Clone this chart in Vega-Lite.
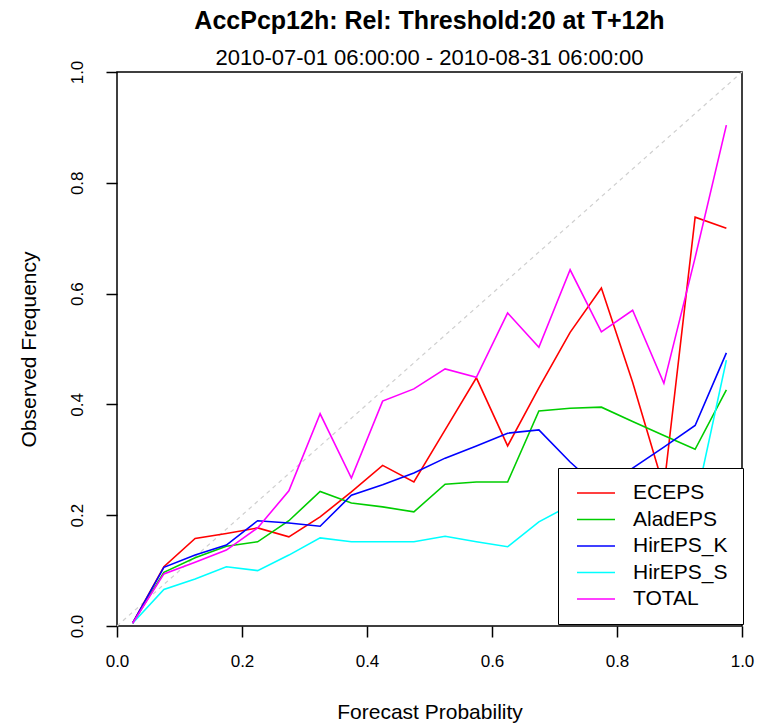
{
  "$schema": "https://vega.github.io/schema/vega-lite/v6.json",
  "width": 625,
  "height": 554,
  "autosize": {"type": "none"},
  "padding": {"left": 117, "top": 72, "right": 31, "bottom": 97},
  "background": "white",
  "config": {
    "font": "Liberation Sans",
    "view": {"stroke": "black", "strokeWidth": 1.5},
    "axis": {
      "domain": false,
      "grid": false,
      "ticks": true,
      "tickColor": "black",
      "tickWidth": 1.5,
      "tickSize": 11,
      "labelColor": "black",
      "labelFont": "Liberation Sans",
      "labelFontSize": 17,
      "titleColor": "black",
      "titleFont": "Liberation Sans",
      "titleFontSize": 21,
      "titleFontWeight": "normal",
      "labelFlush": false,
      "labelOverlap": false
    }
  },
  "title": {
    "text": "AccPcp12h: Rel: Threshold:20 at T+12h",
    "subtitle": "2010-07-01 06:00:00 - 2010-08-31 06:00:00",
    "font": "Liberation Sans",
    "subtitleFont": "Liberation Sans",
    "fontSize": 25,
    "fontWeight": "bold",
    "subtitleFontSize": 22,
    "color": "black",
    "subtitleColor": "black",
    "anchor": "middle",
    "frame": "group",
    "offset": -9,
    "subtitlePadding": 14
  },
  "layer": [
    {
      "data": {"values": [{"p": 0, "f": 0}, {"p": 1, "f": 1}]},
      "mark": {"type": "line", "stroke": "#cfcfcf", "strokeDash": [4, 4], "strokeWidth": 1.2},
      "encoding": {
        "x": {"field": "p", "type": "quantitative"},
        "y": {"field": "f", "type": "quantitative"}
      }
    },
    {
      "data": {
        "values": [
          {"series": "ECEPS", "prob": 0.025, "freq": 0.005},
          {"series": "ECEPS", "prob": 0.075, "freq": 0.107},
          {"series": "ECEPS", "prob": 0.125, "freq": 0.158},
          {"series": "ECEPS", "prob": 0.175, "freq": 0.167},
          {"series": "ECEPS", "prob": 0.225, "freq": 0.177},
          {"series": "ECEPS", "prob": 0.275, "freq": 0.161},
          {"series": "ECEPS", "prob": 0.325, "freq": 0.197},
          {"series": "ECEPS", "prob": 0.375, "freq": 0.242},
          {"series": "ECEPS", "prob": 0.425, "freq": 0.29},
          {"series": "ECEPS", "prob": 0.475, "freq": 0.26},
          {"series": "ECEPS", "prob": 0.525, "freq": 0.354},
          {"series": "ECEPS", "prob": 0.575, "freq": 0.448},
          {"series": "ECEPS", "prob": 0.625, "freq": 0.325},
          {"series": "ECEPS", "prob": 0.675, "freq": 0.43},
          {"series": "ECEPS", "prob": 0.725, "freq": 0.53},
          {"series": "ECEPS", "prob": 0.775, "freq": 0.61},
          {"series": "ECEPS", "prob": 0.825, "freq": 0.44},
          {"series": "ECEPS", "prob": 0.875, "freq": 0.25},
          {"series": "ECEPS", "prob": 0.925, "freq": 0.738},
          {"series": "ECEPS", "prob": 0.975, "freq": 0.718},
          {"series": "AladEPS", "prob": 0.025, "freq": 0.005},
          {"series": "AladEPS", "prob": 0.075, "freq": 0.097},
          {"series": "AladEPS", "prob": 0.125, "freq": 0.123},
          {"series": "AladEPS", "prob": 0.175, "freq": 0.144},
          {"series": "AladEPS", "prob": 0.225, "freq": 0.152},
          {"series": "AladEPS", "prob": 0.275, "freq": 0.19},
          {"series": "AladEPS", "prob": 0.325, "freq": 0.243},
          {"series": "AladEPS", "prob": 0.375, "freq": 0.222},
          {"series": "AladEPS", "prob": 0.425, "freq": 0.215},
          {"series": "AladEPS", "prob": 0.475, "freq": 0.206},
          {"series": "AladEPS", "prob": 0.525, "freq": 0.256},
          {"series": "AladEPS", "prob": 0.575, "freq": 0.26},
          {"series": "AladEPS", "prob": 0.625, "freq": 0.26},
          {"series": "AladEPS", "prob": 0.675, "freq": 0.388},
          {"series": "AladEPS", "prob": 0.725, "freq": 0.393},
          {"series": "AladEPS", "prob": 0.775, "freq": 0.395},
          {"series": "AladEPS", "prob": 0.825, "freq": 0.369},
          {"series": "AladEPS", "prob": 0.875, "freq": 0.344},
          {"series": "AladEPS", "prob": 0.925, "freq": 0.319},
          {"series": "AladEPS", "prob": 0.975, "freq": 0.426},
          {"series": "HirEPS_K", "prob": 0.025, "freq": 0.005},
          {"series": "HirEPS_K", "prob": 0.075, "freq": 0.106},
          {"series": "HirEPS_K", "prob": 0.125, "freq": 0.128},
          {"series": "HirEPS_K", "prob": 0.175, "freq": 0.146},
          {"series": "HirEPS_K", "prob": 0.225, "freq": 0.19},
          {"series": "HirEPS_K", "prob": 0.275, "freq": 0.186},
          {"series": "HirEPS_K", "prob": 0.325, "freq": 0.18},
          {"series": "HirEPS_K", "prob": 0.375, "freq": 0.236},
          {"series": "HirEPS_K", "prob": 0.425, "freq": 0.255},
          {"series": "HirEPS_K", "prob": 0.475, "freq": 0.276},
          {"series": "HirEPS_K", "prob": 0.525, "freq": 0.303},
          {"series": "HirEPS_K", "prob": 0.575, "freq": 0.325},
          {"series": "HirEPS_K", "prob": 0.625, "freq": 0.348},
          {"series": "HirEPS_K", "prob": 0.675, "freq": 0.354},
          {"series": "HirEPS_K", "prob": 0.725, "freq": 0.296},
          {"series": "HirEPS_K", "prob": 0.775, "freq": 0.245},
          {"series": "HirEPS_K", "prob": 0.825, "freq": 0.285},
          {"series": "HirEPS_K", "prob": 0.875, "freq": 0.323},
          {"series": "HirEPS_K", "prob": 0.925, "freq": 0.362},
          {"series": "HirEPS_K", "prob": 0.975, "freq": 0.493},
          {"series": "HirEPS_S", "prob": 0.025, "freq": 0.005},
          {"series": "HirEPS_S", "prob": 0.075, "freq": 0.066},
          {"series": "HirEPS_S", "prob": 0.125, "freq": 0.085},
          {"series": "HirEPS_S", "prob": 0.175, "freq": 0.107},
          {"series": "HirEPS_S", "prob": 0.225, "freq": 0.1},
          {"series": "HirEPS_S", "prob": 0.275, "freq": 0.128},
          {"series": "HirEPS_S", "prob": 0.325, "freq": 0.159},
          {"series": "HirEPS_S", "prob": 0.375, "freq": 0.152},
          {"series": "HirEPS_S", "prob": 0.425, "freq": 0.152},
          {"series": "HirEPS_S", "prob": 0.475, "freq": 0.152},
          {"series": "HirEPS_S", "prob": 0.525, "freq": 0.162},
          {"series": "HirEPS_S", "prob": 0.575, "freq": 0.152},
          {"series": "HirEPS_S", "prob": 0.625, "freq": 0.143},
          {"series": "HirEPS_S", "prob": 0.675, "freq": 0.188},
          {"series": "HirEPS_S", "prob": 0.725, "freq": 0.218},
          {"series": "HirEPS_S", "prob": 0.775, "freq": 0.23},
          {"series": "HirEPS_S", "prob": 0.825, "freq": 0.23},
          {"series": "HirEPS_S", "prob": 0.875, "freq": 0.225},
          {"series": "HirEPS_S", "prob": 0.925, "freq": 0.218},
          {"series": "HirEPS_S", "prob": 0.975, "freq": 0.48},
          {"series": "TOTAL", "prob": 0.025, "freq": 0.005},
          {"series": "TOTAL", "prob": 0.075, "freq": 0.094},
          {"series": "TOTAL", "prob": 0.125, "freq": 0.115},
          {"series": "TOTAL", "prob": 0.175, "freq": 0.137},
          {"series": "TOTAL", "prob": 0.225, "freq": 0.177},
          {"series": "TOTAL", "prob": 0.275, "freq": 0.244},
          {"series": "TOTAL", "prob": 0.325, "freq": 0.383},
          {"series": "TOTAL", "prob": 0.375, "freq": 0.267},
          {"series": "TOTAL", "prob": 0.425, "freq": 0.406},
          {"series": "TOTAL", "prob": 0.475, "freq": 0.428},
          {"series": "TOTAL", "prob": 0.525, "freq": 0.464},
          {"series": "TOTAL", "prob": 0.575, "freq": 0.449},
          {"series": "TOTAL", "prob": 0.625, "freq": 0.565},
          {"series": "TOTAL", "prob": 0.675, "freq": 0.503},
          {"series": "TOTAL", "prob": 0.725, "freq": 0.643},
          {"series": "TOTAL", "prob": 0.775, "freq": 0.531},
          {"series": "TOTAL", "prob": 0.825, "freq": 0.57},
          {"series": "TOTAL", "prob": 0.875, "freq": 0.438},
          {"series": "TOTAL", "prob": 0.925, "freq": 0.665},
          {"series": "TOTAL", "prob": 0.975, "freq": 0.904}
        ]
      },
      "mark": {"type": "line", "strokeWidth": 1.6},
      "encoding": {
        "x": {
          "field": "prob",
          "type": "quantitative",
          "scale": {"domain": [0, 1], "nice": false, "zero": false},
          "axis": {
            "title": "Forecast Probability",
            "values": [0, 0.2, 0.4, 0.6, 0.8, 1.0],
            "format": ".1f",
            "labelPadding": 16,
            "titlePadding": 32
          }
        },
        "y": {
          "field": "freq",
          "type": "quantitative",
          "scale": {"domain": [0, 1], "nice": false, "zero": false},
          "axis": {
            "title": "Observed Frequency",
            "values": [0, 0.2, 0.4, 0.6, 0.8, 1.0],
            "format": ".1f",
            "labelAngle": -90,
            "labelAlign": "center",
            "labelBaseline": "bottom",
            "labelPadding": 20,
            "titlePadding": 29
          }
        },
        "color": {
          "field": "series",
          "type": "nominal",
          "sort": ["ECEPS", "AladEPS", "HirEPS_K", "HirEPS_S", "TOTAL"],
          "scale": {
            "domain": ["ECEPS", "AladEPS", "HirEPS_K", "HirEPS_S", "TOTAL"],
            "range": ["#FF0000", "#00CD00", "#0000FF", "#00FFFF", "#FF00FF"]
          },
          "legend": {
            "orient": "none",
            "legendX": 441,
            "legendY": 396,
            "title": null,
            "strokeColor": "black",
            "fillColor": "white",
            "padding": 14.5,
            "labelFont": "Liberation Sans",
            "labelFontSize": 21,
            "labelColor": "black",
            "labelOffset": 39.5,
            "symbolType": "M-3,0H16",
            "symbolSize": 16,
            "symbolStrokeWidth": 1.6,
            "rowPadding": 4.5
          }
        }
      }
    }
  ]
}
